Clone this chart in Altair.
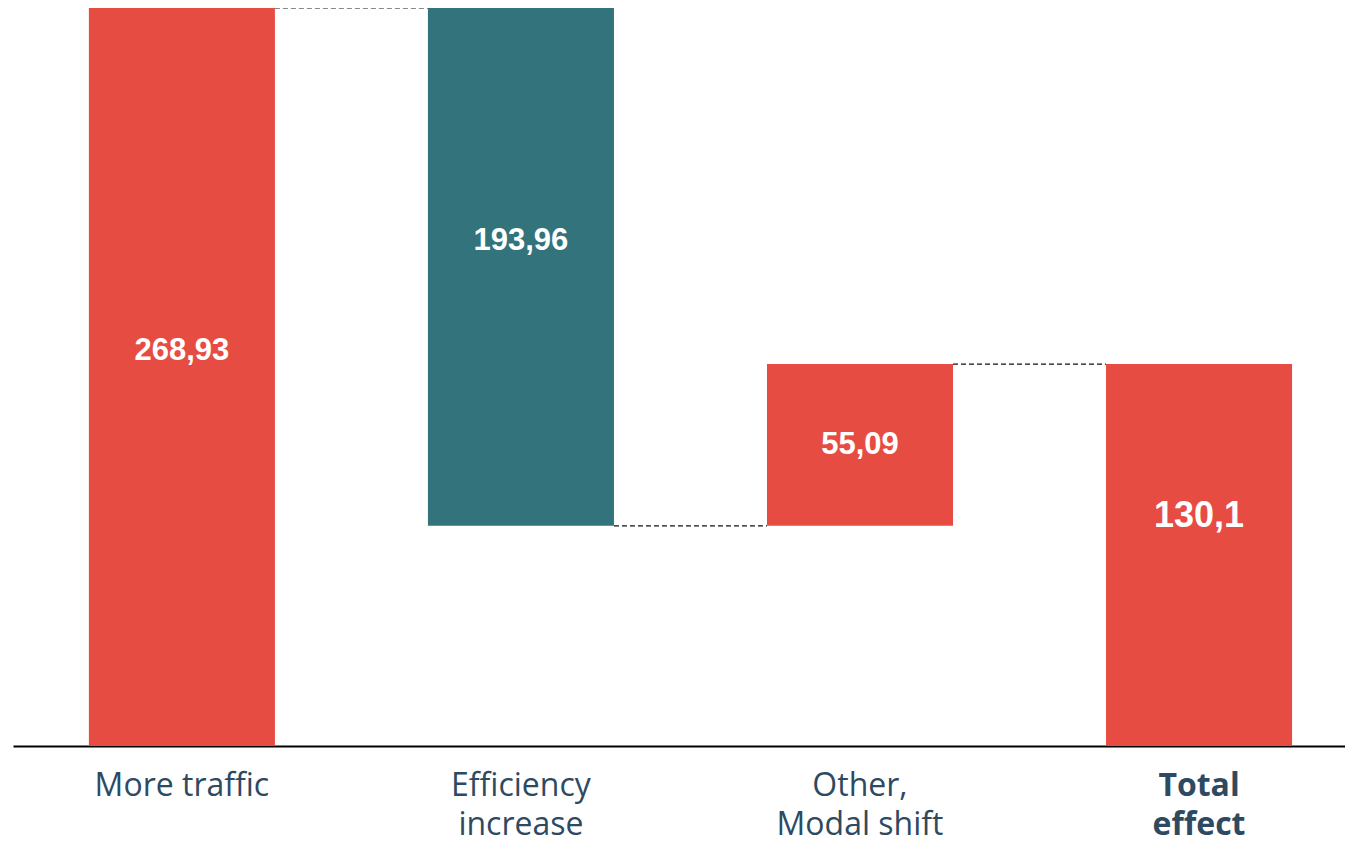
import altair as alt
import pandas as pd

# --- data ---
categories = ["More traffic", "Efficiency|increase", "Other,|Modal shift", "Total|effect"]
changes = [268.93, -193.96, 55.09, None]   # step changes
total_value = 130.1
kinds = ["up", "down", "up", "total"]

# waterfall geometry derived from the values
rows = []
level = 0.0
for cat, ch, kind in zip(categories, changes, kinds):
    if kind == "total":
        start, end, v = 0.0, total_value, total_value
    else:
        start, end, v = level, level + ch, ch
        level = end
    rows.append({
        "cat": cat, "start": start, "end": end, "mid": (start + end) / 2,
        "kind": kind, "label": f"{abs(v):g}".replace(".", ","),
    })
bars = pd.DataFrame(rows)

conn = pd.DataFrame([
    {"cat": rows[i]["cat"], "next": rows[i + 1]["cat"], "level": rows[i]["end"]}
    for i in range(len(rows) - 1)
])

RED = "#E74C42"
TEAL = "#32737C"
TXT = "#2E4A62"

xscale = alt.Scale(domain=categories, paddingInner=0.4513, paddingOuter=0.19, align=0.589)
yscale = alt.Scale(domain=[0, 251.3], clamp=True, nice=False, zero=True)

xaxis = alt.Axis(
    title=None, ticks=False, tickSize=0, grid=False,
    domain=True, domainColor="#000000", domainWidth=2,
    labelAngle=0, labelFont="Open Sans", labelFontSize=32, labelColor=TXT,
    labelBaseline="top", labelAlign="center", labelPadding=24, labelLineHeight=39,
    labelFontWeight={"condition": {"test": "datum.value == 'Total|effect'", "value": "bold"}, "value": "normal"},
    labelExpr="split(datum.value, '|')",
)

bar_layer = alt.Chart(bars).mark_bar().encode(
    x=alt.X("cat:N", scale=xscale, axis=xaxis, sort=categories),
    y=alt.Y("start:Q", scale=yscale, axis=None),
    y2="end:Q",
    color=alt.Color("kind:N", scale=alt.Scale(domain=["up", "down", "total"], range=[RED, TEAL, RED]), legend=None),
)

rule_layer = alt.Chart(conn).mark_rule(strokeDash=[5, 3], color="#111111", strokeWidth=1.2).encode(
    x=alt.X("cat:N", bandPosition=1, sort=categories),
    x2=alt.X2("next:N", bandPosition=0),
    y=alt.Y("level:Q"),
)

text_steps = alt.Chart(bars).transform_filter(alt.datum.kind != "total").mark_text(
    font="Liberation Sans", fontWeight="bold", color="white", baseline="middle", align="center", fontSize=31
).encode(
    x=alt.X("cat:N", sort=categories),
    y=alt.Y("mid:Q"),
    text="label:N",
)

text_total = alt.Chart(bars).transform_filter(alt.datum.kind == "total").mark_text(
    font="Liberation Sans", fontWeight="bold", color="white", baseline="middle", align="center",
    fontSize=36, dy=-39
).encode(
    x=alt.X("cat:N", sort=categories),
    y=alt.Y("mid:Q"),
    text="label:N",
)

chart = alt.layer(bar_layer, rule_layer, text_steps, text_total).properties(
    width=1332, height=738,
    background="white",
    autosize=alt.AutoSizeParams(type="none"),
    padding={"left": 5, "top": 0, "right": 0, "bottom": 100},
).configure_view(stroke=None)

chart.save("out.html", embed_options={"renderer": "svg", "actions": False})
